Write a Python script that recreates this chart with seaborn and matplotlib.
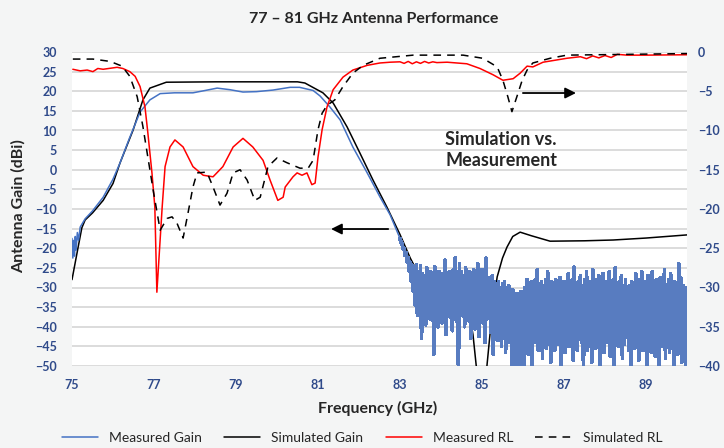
"""
77-81 GHz antenna: gain (left axis) and return loss (right axis), sim vs. measured
"""

import numpy as np
import matplotlib
matplotlib.use("Agg")
import matplotlib.pyplot as plt
import seaborn as sns


## DATA
# measured gain, smooth part up to 83 GHz
meas_gain_f = [75.00, 75.02, 75.04, 75.06, 75.08, 75.10, 75.13, 75.16, 75.20, 75.32,
               75.50, 75.76, 76.00, 76.17, 76.40, 76.66, 76.90, 77.15, 77.50, 77.95,
               78.25, 78.54, 78.85, 79.17, 79.50, 79.90, 80.32, 80.55, 80.88, 81.05,
               81.29, 81.54, 81.85, 82.20, 82.51, 82.76, 82.90]
meas_gain_v = [-17.5, -22.5, -18.0, -22.0, -17.0, -20.5, -16.0, -18.0, -14.6, -12.5,
               -10.5, -7.0, -2.4, 1.7, 8.0, 14.7, 17.8, 19.4, 19.6, 19.6,
               20.2, 20.8, 20.4, 19.8, 19.9, 20.3, 21.0, 21.0, 20.2, 18.8,
               16.0, 12.7, 5.8, -0.8, -6.9, -11.5, -15.0]

# measured gain, noise floor from 83 to 90 GHz (one value per 0.025 GHz)
meas_gain_noise = [
    -17.5, -18.6, -18.8, -20.2, -20.0, -21.8, -21.2, -23.6, -22.5, -25.8,
    -23.6, -28.5, -24.3, -31.0, -25.0, -34.5, -24.2, -37.0, -26.0, -35.5,
    -24.5, -43.0, -26.5, -36.0, -27.0, -39.5, -25.0, -35.0, -27.5, -38.0,
    -26.0, -36.5, -27.5, -47.0, -24.7, -37.0, -27.0, -40.0, -26.0, -35.5,
    -27.5, -39.0, -26.5, -36.0, -23.0, -42.0, -27.0, -35.5, -26.0, -37.5,
    -27.5, -41.0, -25.5, -36.0, -22.5, -38.5, -26.5, -50.5, -24.0, -37.0,
    -26.0, -35.5, -27.0, -40.0, -25.0, -36.5, -27.5, -38.5, -26.0, -43.0,
    -27.5, -35.5, -25.5, -40.5, -27.5, -37.0, -24.0, -42.5, -25.5, -36.0,
    -25.5, -39.0, -27.5, -44.0, -22.5, -38.0, -27.5, -36.5, -28.0, -41.5,
    -27.0, -47.0, -28.5, -40.0, -29.0, -43.5, -28.5, -38.5, -30.0, -45.0,
    -29.0, -41.0, -28.5, -46.5, -30.0, -42.5, -29.5, -44.0, -31.0, -50.5,
    -30.5, -42.0, -32.0, -50.5, -31.5, -44.5, -32.5, -50.5, -31.0, -46.0,
    -32.0, -50.5, -30.0, -44.0, -28.0, -47.0, -29.0, -42.5, -28.5, -50.5,
    -29.5, -44.0, -28.0, -41.5, -25.5, -46.0, -29.0, -43.0, -28.5, -48.0,
    -29.5, -42.0, -28.0, -45.5, -26.0, -41.0, -29.0, -49.0, -28.5, -43.5,
    -30.0, -46.0, -28.0, -40.5, -29.5, -44.5, -27.5, -50.5, -29.0, -43.0,
    -28.5, -46.5, -29.5, -42.0, -26.5, -45.0, -29.0, -41.5, -28.0, -48.5,
    -24.8, -43.5, -29.0, -46.0, -28.5, -40.5, -27.0, -44.0, -29.5, -50.5,
    -28.0, -42.5, -26.0, -46.0, -29.0, -43.0, -28.5, -49.0, -25.5, -41.5,
    -29.5, -45.5, -28.0, -43.0, -27.0, -50.5, -29.0, -42.0, -26.5, -46.5,
    -29.0, -44.0, -28.5, -40.5, -26.0, -47.5, -29.5, -43.0, -28.0, -50.5,
    -25.0, -42.0, -29.0, -45.0, -28.5, -41.0, -27.0, -48.0, -29.5, -44.5,
    -28.0, -42.0, -30.0, -46.0, -29.5, -50.5, -28.5, -43.0, -30.0, -45.5,
    -26.5, -41.5, -29.0, -48.5, -28.0, -43.5, -26.0, -46.0, -29.5, -42.5,
    -28.5, -50.5, -27.0, -44.0, -29.0, -46.5, -26.0, -42.0, -29.5, -47.5,
    -28.0, -43.5, -30.0, -50.5, -27.5, -45.0, -29.0, -42.5, -25.5, -48.0,
    -29.5, -44.0, -28.0, -46.5, -26.5, -41.0, -29.0, -50.5, -28.5, -44.5,
    -30.0, -47.0, -24.0, -43.0, -27.5, -49.0, -29.5, -45.5, -30.0, -50.5,
    -30.0]

sim_gain_f = [75.00, 75.15, 75.24, 75.32, 75.50, 75.76, 76.00, 76.17, 76.49, 76.73,
              76.90, 77.30, 78.50, 79.50, 80.50, 80.68, 81.12, 81.37, 81.71, 82.02,
              82.34, 82.68, 83.00, 83.25, 83.50, 84.00, 84.30, 84.55, 84.68, 84.78,
              84.86, 84.95, 85.05, 85.12, 85.25, 85.37, 85.50, 85.61, 85.75, 85.93,
              86.20, 86.66, 87.50, 88.20, 89.00, 90.00]
sim_gain_v = [-28.0, -19.7, -14.8, -12.8, -11.0, -7.8, -3.5, 1.7, 10.1, 17.8,
              20.8, 22.3, 22.4, 22.4, 22.4, 22.1, 19.6, 17.0, 10.9, 4.3,
              -2.6, -9.5, -16.5, -22.5, -27.5, -31.0, -32.5, -33.5, -36.0, -42.0,
              -50.0, -60.0, -60.0, -50.0, -36.0, -27.3, -22.5, -19.7, -17.0, -15.9,
              -16.8, -18.2, -18.1, -17.9, -17.4, -16.6]

meas_rl_f = [75.02, 75.20, 75.37, 75.51, 75.63, 75.76, 76.10, 76.24, 76.41, 76.54,
             76.66, 76.78, 76.85, 76.95, 77.02, 77.07, 77.20, 77.27, 77.39, 77.51,
             77.71, 77.95, 78.20, 78.44, 78.68, 78.93, 79.17, 79.41, 79.66, 79.83,
             80.02, 80.15, 80.20, 80.39, 80.49, 80.61, 80.73, 80.85, 80.93, 81.00,
             81.10, 81.22, 81.37, 81.61, 81.85, 82.20, 82.51, 82.76, 83.00, 83.10,
             83.20, 83.30, 83.40, 83.50, 83.60, 83.70, 83.80, 83.90, 84.15, 84.63,
             84.95, 85.27, 85.51, 85.76, 85.93, 86.10, 86.24, 86.49, 87.07, 87.40,
             87.55, 87.70, 87.85, 88.00, 88.15, 88.30, 88.54, 89.00, 90.00]
meas_rl_v = [-2.2, -2.4, -2.3, -2.5, -2.1, -2.2, -1.95, -2.1, -2.5, -3.1,
             -4.4, -7.0, -10.3, -15.4, -19.7, -30.6, -19.7, -14.6, -12.1, -11.2,
             -12.1, -14.6, -15.7, -15.9, -14.6, -12.1, -11.0, -12.1, -13.8, -16.3,
             -18.9, -18.5, -17.2, -15.9, -15.4, -15.7, -15.4, -16.9, -16.7, -13.4,
             -9.9, -7.0, -4.8, -3.2, -2.3, -1.7, -1.4, -1.3, -1.25, -1.45,
             -1.2, -1.5, -1.25, -1.45, -1.2, -1.4, -1.25, -1.35, -1.3, -1.5,
             -2.1, -2.9, -3.6, -3.4, -2.7, -1.8, -1.9, -1.3, -0.8, -0.6,
             -0.85, -0.5, -0.75, -0.45, -0.7, -0.3, -0.4, -0.4, -0.35]

sim_rl_f = [75.02, 75.51, 75.93, 76.22, 76.41, 76.59, 76.73, 76.85, 76.98, 77.15,
            77.32, 77.44, 77.56, 77.71, 77.83, 77.95, 78.05, 78.29, 78.44, 78.61,
            78.78, 78.93, 79.10, 79.27, 79.46, 79.59, 79.78, 80.00, 80.24, 80.56,
            80.76, 80.88, 81.00, 81.10, 81.22, 81.41, 81.61, 81.85, 82.10, 82.51,
            83.32, 84.54, 85.02, 85.37, 85.51, 85.63, 85.73, 85.85, 85.98, 86.10,
            86.24, 86.66, 87.07, 90.00]
sim_rl_v = [-0.9, -0.9, -1.2, -1.8, -3.1, -5.7, -9.5, -13.4, -17.6, -22.7,
            -21.2, -21.0, -21.8, -23.7, -20.5, -17.2, -15.4, -15.3, -17.2, -19.5,
            -18.0, -15.4, -15.0, -16.3, -18.9, -18.5, -14.6, -13.5, -14.1, -14.8,
            -14.8, -13.8, -9.9, -7.8, -6.8, -6.1, -4.4, -2.7, -1.7, -0.8,
            -0.4, -0.4, -0.8, -1.9, -3.6, -5.7, -7.6, -5.7, -3.6, -2.3,
            -1.4, -0.8, -0.4, -0.2]

gain_ticks = list(range(-50, 31, 5))
rl_ticks = list(range(-40, 1, 5))
freq_ticks = [75, 77, 79, 81, 83, 85, 87, 89]


## STYLE
sns.set_style("white")
plt.rcParams['font.family'] = ['Lato', 'DejaVu Sans']
tick_col = "#2F4A8A"
text_col = "#262626"
bg_col = "#F4F5F5"
blue = "#4472C4"
band_blue = "#587CC0"


def main():
  fig = plt.figure(figsize=(7.24, 4.48), dpi=100, facecolor=bg_col)
  ax = fig.add_axes([72 / 724, 1 - 366 / 448, (687 - 72) / 724, (366 - 52) / 448])
  ax.set_facecolor("white")

  noise_f = np.linspace(83.0, 90.0, len(meas_gain_noise))

  # simulated gain first so the measured noise floor covers it
  sns.lineplot(x=sim_gain_f, y=sim_gain_v, ax=ax, color="black", lw=1.1, label="Simulated Gain",
               zorder=2)
  sns.lineplot(x=meas_gain_f + [83.0], y=meas_gain_v + [meas_gain_noise[0]], ax=ax, color=blue,
               lw=1.1, label="Measured Gain", zorder=3)
  # dense sweep: no antialiasing so the band reads as a solid fill like the original
  sns.lineplot(x=noise_f, y=meas_gain_noise, ax=ax, color=band_blue, lw=2.0, antialiased=False,
               zorder=3)

  ax.set_xlim(75, 90)
  ax.set_ylim(-50, 30)
  ax.set_yticks(gain_ticks)
  ax.set_xticks(freq_ticks)
  ax.grid(axis="y", color="#D9D9D9", lw=1.3)
  ax.grid(axis="x", visible=False)
  ax.set_axisbelow(True)

  ax2 = ax.twinx()
  sns.lineplot(x=meas_rl_f, y=meas_rl_v, ax=ax2, color="#FF0000", lw=1.1, label="Measured RL")
  sns.lineplot(x=sim_rl_f, y=sim_rl_v, ax=ax2, color="black", lw=1.1, ls=(0, (5, 4)), label="Simulated RL")
  ax2.set_ylim(-40, 0)
  ax2.set_yticks(rl_ticks)
  ax2.grid(False)

  for a in (ax, ax2):
    for s in a.spines.values():
      s.set_visible(False)
    a.set_xlabel("")
    a.set_ylabel("")
  ax.tick_params(axis="both", length=0, labelsize=9, labelcolor=tick_col)
  ax.tick_params(axis="y", pad=11)
  ax.tick_params(axis="x", pad=9)
  ax2.tick_params(axis="y", length=0, labelsize=9, labelcolor=tick_col, pad=8)
  for lab in ax.get_xticklabels() + ax.get_yticklabels() + ax2.get_yticklabels():
    lab.set_fontweight("bold")

  # arrows + note
  ax.annotate("", xy=(81.25, -15.1), xytext=(82.78, -15.1),
              arrowprops=dict(arrowstyle="-|>", color="black", lw=1.3, mutation_scale=16))
  ax.annotate("", xy=(87.36, 19.55), xytext=(85.93, 19.55),
              arrowprops=dict(arrowstyle="-|>", color="black", lw=1.3, mutation_scale=16))
  ax.text(84.1, 5.0, "Simulation vs.\nMeasurement", fontsize=13, fontweight="bold",
          color=text_col, ha="left", va="center", linespacing=1.25)

  # legend order as in the reference
  h1, l1 = ax.get_legend_handles_labels()
  h2, l2 = ax2.get_legend_handles_labels()
  ax.get_legend().remove()
  ax2.get_legend().remove()
  hmap = dict(zip(l1 + l2, h1 + h2))
  order = ["Measured Gain", "Simulated Gain", "Measured RL", "Simulated RL"]
  fig.legend([hmap[k] for k in order], order, loc="center", bbox_to_anchor=(0.5, 1 - 438 / 448),
             ncol=4, frameon=False, fontsize=10, handlelength=2.6, handletextpad=0.8,
             columnspacing=1.6, labelcolor=text_col)

  fig.text(374 / 724, 1 - 19 / 448, "77 – 81 GHz Antenna Performance", ha="center", va="center",
           fontsize=11.5, fontweight="bold", color=text_col)
  fig.text(18 / 724, 1 - 206 / 448, "Antenna Gain (dBi)", rotation=90, ha="center", va="center",
           fontsize=11.5, fontweight="bold", color=text_col)
  fig.text(378 / 724, 1 - 408 / 448, "Frequency (GHz)", ha="center", va="center",
           fontsize=11.5, fontweight="bold", color=text_col)

  fig.savefig("out.png", dpi=100, facecolor=bg_col)


if __name__ == '__main__':
  main()
